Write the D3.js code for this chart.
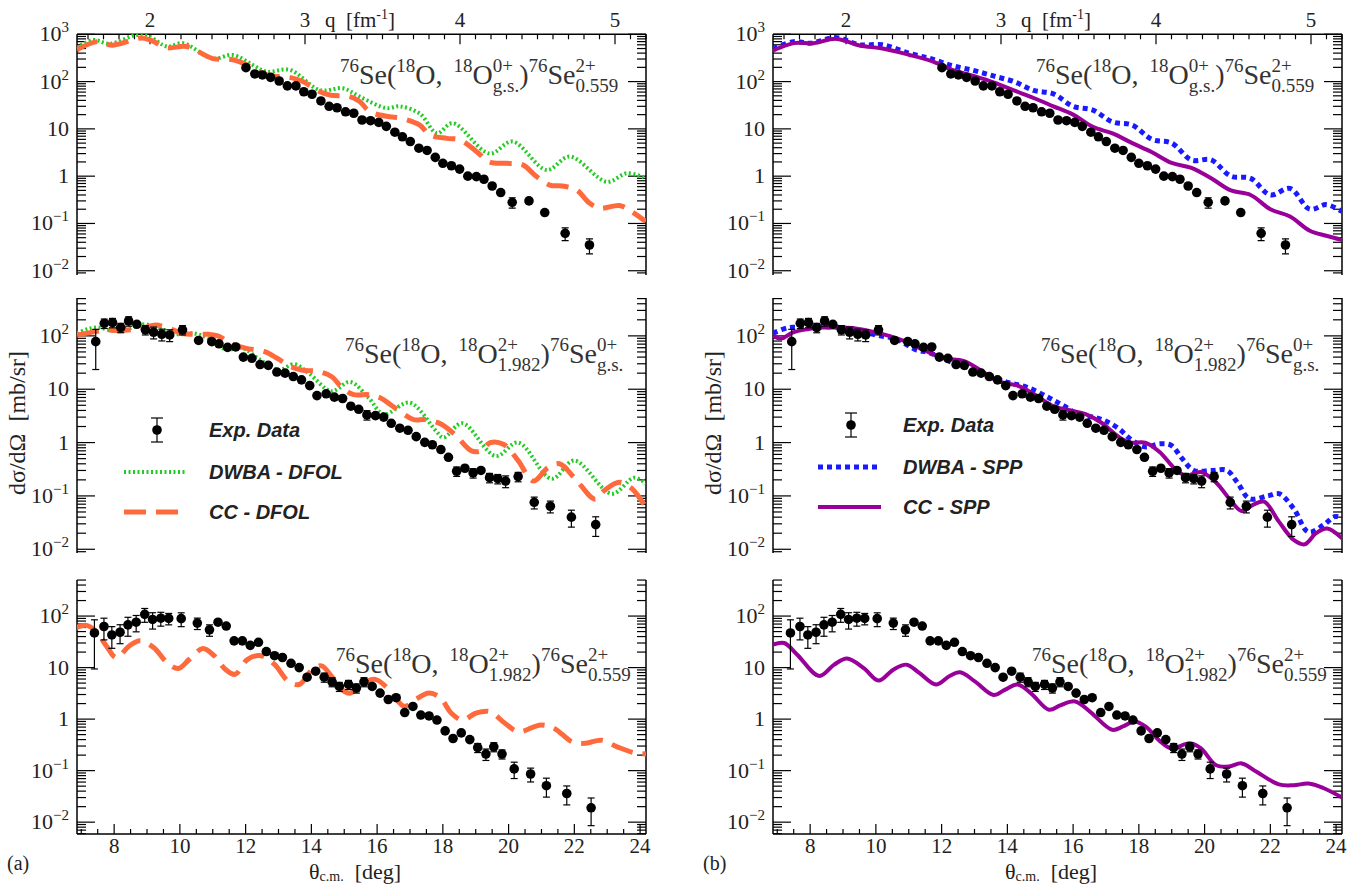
<!DOCTYPE html>
<html><head><meta charset="utf-8">
<script src="https://cdn.jsdelivr.net/npm/d3@7"></script>
<style>body{margin:0;background:#fff}svg{display:block}</style>
</head><body>
<svg id="c" width="1370" height="886"></svg>
<script>
// ---------------- DATA ----------------
const topTheta = [12.01,12.28,12.51,12.76,13.02,13.27,13.53,13.77,14.02,14.29,14.54,14.78,15.04,15.29,15.54,15.80,16.05,16.28,16.54,16.77,17.01,17.27,17.52,17.77,18.0,18.26,18.51,18.76,19.02,19.25,19.5,19.76,20.11,20.62,21.1,21.72,22.46];
const topVal   = [197,145,138,123,103,81,81,61,54,39,30,28,23,21.4,15.4,14.9,13.7,11.3,8.5,6.8,5.4,3.9,3.5,2.5,1.87,1.66,1.41,1.0,0.98,0.86,0.62,0.45,0.28,0.30,0.17,0.062,0.035];
const topErr   = [0.05,0.05,0.05,0.05,0.05,0.05,0.05,0.05,0.05,0.05,0.05,0.05,0.05,0.05,0.05,0.05,0.05,0.05,0.05,0.05,0.05,0.05,0.05,0.05,0.05,0.05,0.05,0.05,0.05,0.05,0.06,0.1,0.25,0.15,0.2,0.3,0.35];

const midTheta = [7.44,7.70,7.95,8.20,8.44,8.69,8.95,9.20,9.45,9.69,10.08,10.57,10.97,11.19,11.45,11.70,11.93,12.19,12.44,12.69,12.95,13.20,13.45,13.70,13.95,14.17,14.45,14.70,14.95,15.20,15.44,15.69,15.95,16.20,16.43,16.69,16.94,17.19,17.45,17.68,17.94,18.17,18.42,18.67,18.92,19.16,19.42,19.67,19.91,20.29,20.78,21.27,21.91,22.65];
const midVal   = [78,172,177,143,190,165,130,117,107,104,130,82,78,71,61,62,40,38,29,28,21,20,17.3,15,11.7,7.6,8.2,7.1,6.7,4.8,4.2,3.3,3.2,3.0,2.3,1.86,1.7,1.29,1.01,0.91,0.74,0.53,0.29,0.33,0.27,0.30,0.22,0.21,0.19,0.23,0.076,0.064,0.040,0.029];
const midErr   = [0.7,0.2,0.2,0.2,0.2,0.15,0.2,0.25,0.25,0.25,0.2,0.15,0.1,0.1,0.1,0.05,0.05,0.05,0.05,0.05,0.05,0.05,0.05,0.05,0.05,0.05,0.15,0.1,0.1,0.1,0.15,0.2,0.05,0.05,0.05,0.05,0.05,0.05,0.05,0.05,0.05,0.05,0.2,0.15,0.2,0.15,0.2,0.2,0.25,0.2,0.25,0.25,0.35,0.4];

const botTheta = [7.40,7.69,7.93,8.18,8.42,8.67,8.93,9.17,9.42,9.66,10.04,10.53,10.90,11.16,11.41,11.65,11.90,12.14,12.39,12.63,12.88,13.12,13.38,13.63,13.87,14.13,14.39,14.63,14.85,15.13,15.37,15.60,15.85,16.09,16.34,16.58,16.84,17.09,17.33,17.58,17.82,18.07,18.31,18.56,18.82,19.06,19.31,19.55,19.80,20.17,20.67,21.15,21.77,22.51];
const botVal   = [47,62.7,43,48.5,67.6,76,108,86,91,90,89,73,54,76,64,33,33,27,31,20.5,17,15.7,12.1,10,6.5,8.5,6.5,5.3,4.3,4.7,4.0,5.3,4.3,3.2,2.4,2.6,1.34,1.76,1.2,1.15,0.96,0.59,0.42,0.54,0.40,0.28,0.21,0.29,0.21,0.108,0.086,0.051,0.036,0.019];
const botErr   = [0.8,0.45,0.45,0.4,0.4,0.35,0.3,0.35,0.3,0.25,0.3,0.25,0.25,0.15,0.15,0.1,0.1,0.1,0.1,0.1,0.1,0.1,0.1,0.1,0.1,0.15,0.2,0.2,0.2,0.2,0.2,0.2,0.1,0.1,0.1,0.1,0.1,0.1,0.1,0.1,0.1,0.1,0.15,0.1,0.15,0.2,0.25,0.2,0.2,0.35,0.3,0.4,0.4,0.55];

// Calculations — column (a): DFOL
const ccDfolTopT = [6.87,7.48,7.96,8.79,9.09,9.61,10.21,11.0,11.61,12.04,12.52,13.04,13.34,13.74,14.26,14.56,15.17,15.47,15.78,16.38,16.69,17.30,17.6,18.12,18.51,19.03,19.42,19.94,20.43,20.85,21.25,21.64,22.07,22.46,22.77,23.37,23.68,24.17];
const ccDfolTopV = [470,700,590,830,760,520,550,307,290,225,150,126,123,100,61,52,48,38,23,18,17,12,7.4,6.3,5.9,3.3,2.0,1.87,1.73,0.98,0.65,0.62,0.51,0.27,0.21,0.24,0.19,0.11];
const dwDfolTopT = [6.87,7.36,7.87,8.69,9.09,9.61,10.09,11.0,11.61,12.22,12.64,13.34,14.26,14.96,15.47,16.29,16.69,17.30,17.82,18.30,19.42,20.12,21.16,21.86,22.99,23.6,24.17];
const dwDfolTopV = [520,760,630,970,880,550,650,307,365,225,162,177,66,72,48,27.5,30,21,8.1,13.2,3.0,5.4,1.35,2.6,0.76,1.15,0.91];

const ccDfolMidT = [6.87,7.44,7.78,8.12,8.63,8.92,9.26,9.6,10.06,10.39,10.85,11.19,11.53,11.99,12.56,12.96,13.35,13.7,14.21,14.61,14.95,15.29,15.74,16.09,16.54,17.11,17.45,17.9,18.36,18.87,19.16,19.44,19.84,20.29,20.75,21.2,21.55,22.0,22.63,22.91,23.37,23.76,24.16];
const ccDfolMidV = [104,120,129,126,133,143,160,143,112,107,107,98,73,59,51,38,27,23,21.5,17.3,10.5,7.9,7.9,6.9,4.5,2.7,2.7,2.3,1.43,0.7,0.7,1.0,0.93,0.46,0.19,0.34,0.40,0.22,0.087,0.126,0.18,0.135,0.063];
const dwDfolMidT = [6.87,7.21,7.55,8.0,8.46,8.92,9.37,9.94,10.39,10.85,11.42,11.88,12.44,13.01,13.47,13.92,14.61,15.18,15.74,16.2,16.99,17.79,18.02,18.59,19.61,20.29,21.31,22.0,23.14,23.82,24.18];
const dwDfolMidV = [112,135,143,123,138,165,138,107,112,91,55,60,35.6,23,29.5,20,9.2,13.7,6.9,3.4,5.6,1.66,1.24,2.3,0.56,1.0,0.21,0.46,0.11,0.22,0.17];

const ccDfolBotT = [6.84,7.16,7.43,7.77,8.07,8.45,8.79,9.2,9.61,9.95,10.29,10.7,11.04,11.38,11.68,12.06,12.47,12.88,13.29,13.63,14.04,14.31,14.65,14.99,15.19,15.53,15.94,16.35,16.83,17.17,17.58,17.92,18.26,18.6,19.0,19.42,19.89,20.3,20.98,21.39,21.94,22.35,22.82,23.3,23.84,24.18];
const ccDfolBotV = [60,66,52,26,15.5,26,33,24.5,12.5,9.6,14.5,23.5,17,9.3,7.4,14.5,17,11.5,5.5,4.7,9.3,10.8,6.3,3.5,3.2,4.7,5.9,3.8,1.76,2.4,3.2,2.6,1.3,0.96,1.3,1.4,0.83,0.57,0.77,0.66,0.36,0.34,0.39,0.29,0.22,0.21];

// Calculations — column (b): SPP
const dwSppTopT = [6.87,7.5,8.0,8.8,9.5,10.2,11.0,11.7,12.3,13.0,13.6,14.2,14.8,15.4,16.0,16.6,17.2,17.8,18.4,19.0,19.6,20.2,20.8,21.4,22.0,22.6,23.2,23.7,24.18];
const dwSppTopV = [500,700,650,850,600,600,400,300,220,170,130,100,65,55,30,25,14,12,6,5,2.2,2.2,1.0,0.9,0.4,0.55,0.2,0.25,0.18];
const ccSppTopT = [6.87,7.5,8.1,8.8,9.5,10.2,11.0,11.7,12.3,13.0,13.6,14.2,14.8,15.4,16.0,16.6,17.2,17.8,18.4,19.0,19.6,20.2,20.8,21.4,22.0,22.6,23.2,23.7,24.18];
const ccSppTopV = [450,650,650,800,580,500,370,270,180,130,95,65,45,30,20,11,8,5,3.2,1.9,1.5,0.9,0.5,0.4,0.2,0.14,0.07,0.055,0.045];

const ccSppMidT = [6.87,7.12,7.46,7.91,8.36,8.93,9.38,9.83,10.4,10.96,11.52,12.09,12.66,13.22,13.67,14.35,14.8,15.37,15.93,16.38,16.84,17.4,17.74,18.19,18.64,19.1,19.43,19.89,20.34,20.79,21.13,21.47,21.81,22.26,22.71,23.05,23.39,23.73,24.18];
const ccSppMidV = [100,89,115,133,143,143,138,123,100,76,52,38,34,22,14.5,11.4,8.1,4.9,4.0,3.4,2.4,1.26,1.0,1.0,0.66,0.32,0.24,0.28,0.18,0.083,0.052,0.068,0.078,0.033,0.015,0.0124,0.020,0.0245,0.016];
const dwSppMidT = [6.87,7.34,7.8,8.36,8.93,9.49,10.06,10.62,11.19,11.64,12.2,12.77,13.45,14.01,14.58,15.25,15.71,16.16,16.61,16.95,17.4,17.74,18.19,18.64,18.98,19.32,19.67,20.23,20.68,21.02,21.36,21.92,22.26,22.71,23.16,23.62,23.96,24.18];
const dwSppMidV = [112,143,143,148,143,123,102,87,56,48,34,25.6,18,13.4,11,7.0,4.9,3.4,3.0,2.6,1.8,1.17,0.83,0.95,0.89,0.50,0.30,0.30,0.30,0.17,0.089,0.10,0.11,0.058,0.021,0.0285,0.041,0.039];

const ccSppBotT = [6.87,7.21,7.6,8.28,8.73,9.12,9.63,10.08,10.53,10.93,11.32,11.83,12.23,12.56,13.01,13.58,13.92,14.31,14.71,15.27,15.61,16.06,16.51,17.19,17.52,17.86,18.2,18.65,18.99,19.55,19.89,20.34,20.74,21.13,21.58,22.26,22.71,23.16,23.61,24.18];
const ccSppBotV = [28,30,18,6.9,11.4,15,9.8,5.6,9.1,11.4,7.9,4.7,6.8,8.1,5.4,2.95,3.7,4.7,3.2,1.52,1.85,2.2,1.4,0.62,0.72,0.9,0.72,0.37,0.27,0.34,0.27,0.129,0.12,0.138,0.095,0.054,0.052,0.056,0.046,0.030];

const xTicks = [8,10,12,14,16,18,20,22,24];
const qTicks = [2,3,4,5];
const yTickExp = [3,2,1,0,-1,-2];

// ---------------- LAYOUT ----------------
const svg = d3.select("#c");
const SERIF = "'Liberation Serif','Times New Roman',serif";
const SANS = "'Liberation Sans',Arial,sans-serif";
const colX = [77, 773];
const W = 569;
const rows = [
  {top:34.3, bot:275, logMax:3, logMin:-2.09},
  {top:298, bot:553, logMax:2.71, logMin:-2.07},
  {top:580, bot:834, logMax:2.70, logMin:-2.23}
];
const colors = {cc:"#ff6a3d", dw:"#22cc22", blue:"#1a1aff", purple:"#990099"};
const styles = {
  ccDfol:{stroke:colors.cc, width:5, dash:"22,10"},
  dwDfol:{stroke:colors.dw, width:4, dash:"2,2.5"},
  dwSpp:{stroke:colors.blue, width:5, dash:"5,4"},
  ccSpp:{stroke:colors.purple, width:4, dash:null}
};
const data = [
  {t:topTheta, v:topVal, e:topErr},
  {t:midTheta, v:midVal, e:midErr},
  {t:botTheta, v:botVal, e:botErr}
];
const curves = [
  [[{t:dwDfolTopT,v:dwDfolTopV,s:"dwDfol"},{t:ccDfolTopT,v:ccDfolTopV,s:"ccDfol"}],
   [{t:dwDfolMidT,v:dwDfolMidV,s:"dwDfol"},{t:ccDfolMidT,v:ccDfolMidV,s:"ccDfol"}],
   [{t:ccDfolBotT,v:ccDfolBotV,s:"ccDfol"}]],
  [[{t:dwSppTopT,v:dwSppTopV,s:"dwSpp"},{t:ccSppTopT,v:ccSppTopV,s:"ccSpp"}],
   [{t:dwSppMidT,v:dwSppMidV,s:"dwSpp"},{t:ccSppMidT,v:ccSppMidV,s:"ccSpp"}],
   [{t:ccSppBotT,v:ccSppBotV,s:"ccSpp"}]]
];
const labels = [
  {sup1:"0+", sub1:"g.s.", sup2:"2+", sub2:"0.559", x:340, y:84},
  {sup1:"2+", sub1:"1.982", sup2:"0+", sub2:"g.s.", x:345, y:363},
  {sup1:"2+", sub1:"1.982", sup2:"2+", sub2:"0.559", x:336, y:673}
];

function reactionLabel(g, L){
  const t = g.append("g").attr("font-family",SERIF).attr("fill","#333");
  let x = L.x;
  function piece(str, size, dy){
    const el = t.append("text").attr("x",x).attr("y",L.y+dy).attr("font-size",size).text(str);
    return el.node().getComputedTextLength();
  }
  function stack(sup, sub){
    const a = piece(sup,19,-12), b = piece(sub,19,8);
    x += Math.max(a,b);
  }
  x += piece("76",19,-12); x += piece("Se(",28,0);
  x += piece("18",19,-12); x += piece("O,",28,0); x += 11;
  x += piece("18",19,-12); x += piece("O",28,0);
  stack(L.sup1, L.sub1);
  x += piece(")",28,0); x += piece("76",19,-12); x += piece("Se",28,0);
  stack(L.sup2, L.sub2);
}

for (let c=0;c<2;c++){
  const x0 = colX[c];
  const x = d3.scaleLinear().domain([6.87,24.18]).range([x0, x0+W]);
  rows.forEach((R,r)=>{
    const g = svg.append("g");
    const y = d3.scaleLog().domain([Math.pow(10,R.logMin), Math.pow(10,R.logMax)]).range([R.bot,R.top]);
    const clipId = `clip${c}${r}`;
    svg.append("clipPath").attr("id",clipId).append("rect").attr("x",x0).attr("y",R.top-2).attr("width",W).attr("height",R.bot-R.top+2);
    [x0, x0+W].forEach((ax,side)=>{
      const dir = side===0 ? 1 : -1;
      g.append("line").attr("x1",ax).attr("x2",ax).attr("y1",R.top).attr("y2",R.bot).attr("stroke","#000").attr("stroke-width",1.5);
      for (let e=Math.floor(R.logMin); e<=Math.ceil(R.logMax); e++){
        for (let m=1;m<=9;m++){
          const v = m*Math.pow(10,e), lv=Math.log10(v);
          if (lv < R.logMin-1e-9 || lv > R.logMax+1e-9) continue;
          const len = m===1 ? 18 : 9;
          g.append("line").attr("x1",ax).attr("x2",ax+dir*len).attr("y1",y(v)).attr("y2",y(v)).attr("stroke","#000").attr("stroke-width",1.2);
        }
      }
    });
    yTickExp.forEach(e=>{
      if (e < R.logMin || e > R.logMax+1e-9) return;
      const t = g.append("text").attr("x",x0-8).attr("y",y(Math.pow(10,e))+7).attr("text-anchor","end")
        .attr("font-family",SERIF).attr("font-size",22).attr("fill","#222");
      if (e===0) t.text("1"); else if (e===1) t.text("10");
      else { t.append("tspan").text("10"); t.append("tspan").attr("dy",-9).attr("font-size",15).text(e<0?"\u2212"+(-e):String(e)); }
    });
    if (r===0){
      const q = d3.scaleLinear().domain([2+(77-150)/155, 2+(646-150)/155]).range([x0,x0+W]);
      g.append("line").attr("x1",x0).attr("x2",x0+W).attr("y1",R.top).attr("y2",R.top).attr("stroke","#000").attr("stroke-width",1.5);
      for (let k=16;k<=52;k++){
        const qv=k/10; if (qv<q.domain()[0]||qv>q.domain()[1]) continue;
        const len = k%10===0 ? 10 : 5;
        g.append("line").attr("x1",q(qv)).attr("x2",q(qv)).attr("y1",R.top).attr("y2",R.top+len).attr("stroke","#000").attr("stroke-width",1.2);
      }
      qTicks.forEach(v=>g.append("text").attr("x",q(v)).attr("y",27).attr("text-anchor","middle").attr("font-family",SERIF).attr("font-size",21).attr("fill","#222").text(v));
      const ql = g.append("text").attr("x",x0+248).attr("y",27).attr("font-family",SERIF).attr("font-size",21).attr("fill","#222");
      ql.append("tspan").text("q\u00a0\u00a0[fm");
      ql.append("tspan").attr("dy",-8).attr("font-size",14).text("-1");
      ql.append("tspan").attr("dy",8).text("]");
    }
    if (r===2){
      g.append("line").attr("x1",x0).attr("x2",x0+W).attr("y1",R.bot).attr("y2",R.bot).attr("stroke","#000").attr("stroke-width",1.5);
      for (let k=14;k<=48;k++){
        const tv=k/2; if (tv<6.87||tv>24.18) continue;
        const len = (k%4===0) ? 10 : 5;
        g.append("line").attr("x1",x(tv)).attr("x2",x(tv)).attr("y1",R.bot).attr("y2",R.bot-len).attr("stroke","#000").attr("stroke-width",1.2);
      }
      xTicks.forEach(v=>g.append("text").attr("x",x(v)).attr("y",853).attr("text-anchor","middle").attr("font-family",SERIF).attr("font-size",21).attr("fill","#222").text(v));
      const xl = g.append("text").attr("x",x0+232).attr("y",879).attr("font-family",SERIF).attr("font-size",22).attr("fill","#222");
      xl.append("tspan").text("\u03b8");
      xl.append("tspan").attr("dy",2).attr("font-size",14).text("c.m.");
      xl.append("tspan").attr("dy",-2).text("\u00a0\u00a0[deg]");
      g.append("text").attr("x",x0-70).attr("y",870).attr("font-family",SERIF).attr("font-size",20).attr("fill","#222").text(c===0?"(a)":"(b)");
    }
    const line = d3.line().x(d=>x(d[0])).y(d=>y(d[1])).curve(d3.curveCatmullRom.alpha(0.5));
    const cg = g.append("g").attr("clip-path",`url(#${clipId})`);
    curves[c][r].forEach(cv=>{
      const st = styles[cv.s];
      cg.append("path").datum(cv.t.map((t,i)=>[t,cv.v[i]])).attr("d",line).attr("fill","none")
        .attr("stroke",st.stroke).attr("stroke-width",st.width).attr("stroke-dasharray",st.dash);
    });
    const D = data[r];
    D.t.forEach((t,i)=>{
      const v=D.v[i], e=D.e[i]*v;
      const px=x(t), yl=y(Math.max(v-e, v*0.05)), yh=y(v+e);
      if (yl-yh>9){
        cg.append("line").attr("x1",px).attr("x2",px).attr("y1",yl).attr("y2",yh).attr("stroke","#000").attr("stroke-width",1.2);
        [yl,yh].forEach(yy=>cg.append("line").attr("x1",px-3.5).attr("x2",px+3.5).attr("y1",yy).attr("y2",yy).attr("stroke","#000").attr("stroke-width",1.2));
      }
      cg.append("circle").attr("cx",px).attr("cy",y(v)).attr("r",4.8).attr("fill","#000");
    });
    const L = Object.assign({}, labels[r], {x: labels[r].x + (c===1?696:0)});
    reactionLabel(g, L);
  });
  svg.append("text").attr("transform",`translate(${x0-52},423) rotate(-90)`).attr("text-anchor","middle")
    .attr("font-family",SERIF).attr("font-size",24).attr("fill","#222").text("d\u03c3/d\u03a9\u00a0\u00a0[mb/sr]");
  const lg = svg.append("g");
  const ly = c===0 ? [430,472,512] : [425,467,507];
  const mx = c===0 ? 157 : 851;
  lg.append("line").attr("x1",mx).attr("x2",mx).attr("y1",ly[0]-12).attr("y2",ly[0]+12).attr("stroke","#000").attr("stroke-width",1.2);
  [ly[0]-12,ly[0]+12].forEach(yy=>lg.append("line").attr("x1",mx-6).attr("x2",mx+6).attr("y1",yy).attr("y2",yy).attr("stroke","#000").attr("stroke-width",1.2));
  lg.append("circle").attr("cx",mx).attr("cy",ly[0]).attr("r",4.8).attr("fill","#000");
  const names = c===0 ? ["Exp. Data","DWBA - DFOL","CC - DFOL"] : ["Exp. Data","DWBA - SPP","CC - SPP"];
  const stl = c===0 ? [styles.dwDfol, styles.ccDfol] : [styles.dwSpp, styles.ccSpp];
  const lx0 = mx-33, lx1 = mx+30;
  stl.forEach((st,i)=>lg.append("line").attr("x1",lx0).attr("x2",lx1).attr("y1",ly[i+1]).attr("y2",ly[i+1])
    .attr("stroke",st.stroke).attr("stroke-width",st.width).attr("stroke-dasharray",st.dash));
  names.forEach((n,i)=>lg.append("text").attr("x",mx+52).attr("y",ly[i]+7).attr("font-family",SANS)
    .attr("font-weight","bold").attr("font-style","italic").attr("font-size",20).attr("fill","#222").text(n));
}
</script>
</body></html>
